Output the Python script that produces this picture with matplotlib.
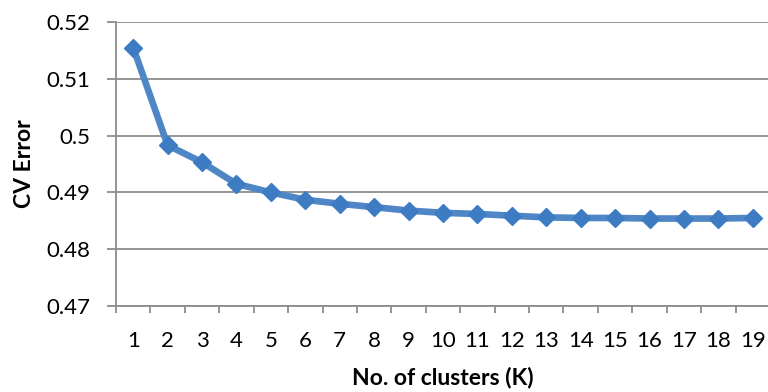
import matplotlib
matplotlib.use("Agg")
import matplotlib.pyplot as plt
import numpy as np

# CV error for each number of clusters
clusters = list(range(1, 20))
cv_error = [0.5155, 0.4983, 0.4953, 0.4915, 0.4900, 0.4887, 0.4880, 0.4874,
            0.4868, 0.4864, 0.4862, 0.4859, 0.4856, 0.4855, 0.4855, 0.4854,
            0.4854, 0.4854, 0.4855]
y_ticks = [0.47, 0.48, 0.49, 0.50, 0.51, 0.52]
y_tick_labels = ['0.47', '0.48', '0.49', '0.5', '0.51', '0.52']

plt.rcParams['font.family'] = ['Lato', 'DejaVu Sans']

fig = plt.figure(figsize=(7.68, 3.92), dpi=100)
ax = fig.add_axes([116 / 768, 1 - 306 / 392, 654 / 768, 284 / 392])

grid_color = '#8c8c8c'
line_color = '#4f86c6'
marker_color = '#3d7cc2'

x = np.arange(1, len(clusters) + 1)
ax.plot(x, cv_error, color=line_color, linewidth=4.8, solid_joinstyle='round',
        marker='D', markersize=9.5, markerfacecolor=marker_color,
        markeredgecolor=marker_color, markeredgewidth=1, zorder=3,
        clip_on=False)

ax.set_xlim(0.5, len(clusters) + 0.5)
ax.set_ylim(0.47, 0.52)

# y axis: gridlines with short outward ticks
ax.set_yticks(y_ticks)
ax.set_yticklabels(y_tick_labels)
ax.yaxis.grid(True, color=grid_color, linewidth=1.3)
ax.set_axisbelow(True)
ax.tick_params(axis='y', length=6.5, width=1.3, color=grid_color, pad=12,
               labelsize=16, labelcolor='#000000')

# x axis: labels at category centres, tick marks at the boundaries
ax.set_xticks(x)
ax.set_xticklabels([str(c) for c in clusters])
ax.set_xticks(np.arange(0.5, len(clusters) + 0.5, 1), minor=True)
ax.tick_params(axis='x', which='major', length=0, pad=18, labelsize=16)
ax.tick_params(axis='x', which='minor', length=5, width=1.3, color=grid_color,
               direction='out')

for side in ['top', 'right']:
    ax.spines[side].set_visible(False)
for side in ['left', 'bottom']:
    ax.spines[side].set_color(grid_color)
    ax.spines[side].set_linewidth(1.3)

ax.set_xlabel('No. of clusters (K)', fontsize=16.5, fontweight='bold', labelpad=11)
ax.set_ylabel('CV Error', fontsize=16.5, fontweight='bold', labelpad=8)

fig.savefig('out.png', dpi=100, facecolor='white')
